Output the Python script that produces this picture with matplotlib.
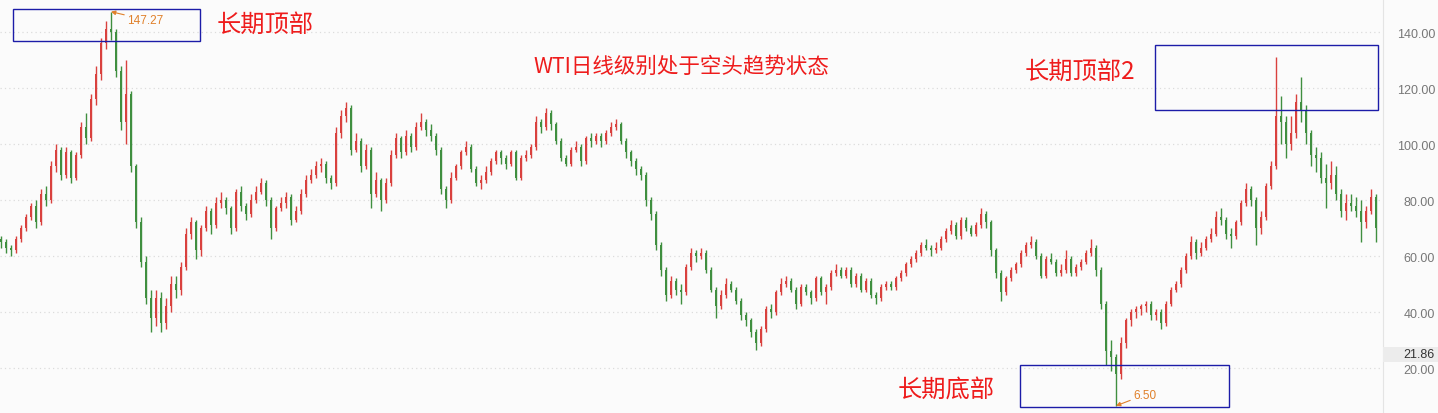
import matplotlib

matplotlib.use("Agg")
import matplotlib.pyplot as plt
import numpy as np
from matplotlib.patches import Rectangle

# WTI candles (one candle every ~5 px)
closes = [
    65, 63, 62, 66, 70, 74, 78, 72, 82, 80,
    92, 98, 89, 97, 88, 96, 106, 102, 116, 125,
    136, 141, 140, 126, 108, 118, 92, 72, 58, 45,
    38, 45, 36, 42, 50, 48, 56, 68, 72, 62,
    70, 76, 71, 79, 80, 77, 70, 83, 78, 75,
    80, 83, 86, 80, 70, 77, 79, 81, 73, 76,
    82, 87, 89, 92, 93, 88, 86, 104, 110, 113,
    98, 101, 92, 98, 82, 87, 80, 86, 96, 102,
    97, 103, 99, 106, 108, 105, 103, 98, 84, 80,
    88, 92, 97, 99, 91, 86, 87, 90, 94, 97,
    95, 93, 97, 88, 95, 96, 99, 108, 106, 111,
    107, 101, 95, 93, 98, 99, 94, 102, 101, 103,
    101, 104, 106, 107, 101, 97, 94, 91, 89, 80,
    75, 64, 55, 46, 51, 48, 47, 56, 61, 60,
    61, 55, 48, 42, 46, 50, 48, 44, 39, 37,
    33, 29, 34, 41, 40, 47, 50, 51, 48, 43,
    49, 47, 45, 52, 47, 49, 54, 55, 53, 55,
    50, 53, 48, 51, 46, 45, 49, 50, 49, 52,
    54, 57, 59, 61, 64, 63, 62, 63, 66, 69,
    71, 67, 73, 70, 68, 71, 75, 72, 62, 54,
    47, 52, 55, 57, 61, 64, 65, 60, 53, 59,
    58, 54, 55, 59, 54, 56, 58, 61, 63, 55,
    43, 26, 24, 18, 29, 37, 40, 41, 42, 43,
    39, 40, 36, 43, 48, 50, 55, 60, 65, 61,
    63, 66, 68, 74, 73, 68, 67, 72, 79, 84,
    80, 70, 74, 85, 92, 110, 108, 100, 104, 115,
    112, 104, 96, 95, 88, 86, 89, 82, 76, 79,
    78, 76, 72, 76, 81, 70,
]
highs = [
    67, 66, 64, 67, 71, 75, 79, 80, 84, 85,
    94, 100, 99, 99, 98, 97, 108, 111, 118, 128,
    138, 144, 147.27, 141, 128, 130, 119, 93, 74, 60,
    48, 48, 47, 45, 53, 53, 58, 70, 74, 73,
    71, 78, 77, 81, 83, 81, 78, 84, 85, 79,
    82, 85, 88, 87, 81, 78, 81, 83, 82, 78,
    84, 89, 91, 94, 95, 94, 89, 106, 112, 115,
    114, 104, 102, 100, 99, 90, 88, 88, 98, 104,
    103, 105, 104, 108, 111, 109, 107, 104, 99, 85,
    90, 93, 98, 101, 100, 92, 89, 92, 95, 98,
    98, 96, 98, 98, 96, 98, 100, 110, 109, 113,
    112, 108, 102, 96, 99, 101, 100, 103, 104, 104,
    104, 105, 108, 109, 108, 102, 98, 95, 92, 90,
    81, 76, 65, 56, 53, 52, 50, 57, 63, 62,
    63, 62, 56, 49, 48, 52, 51, 49, 45, 40,
    38, 34, 35, 42, 43, 48, 52, 53, 52, 49,
    50, 50, 48, 53, 53, 50, 55, 57, 56, 56,
    56, 54, 54, 52, 52, 47, 50, 51, 51, 53,
    55, 58, 60, 62, 65, 66, 64, 65, 67, 70,
    73, 72, 74, 74, 71, 72, 77, 76, 73, 63,
    55, 53, 56, 58, 62, 65, 67, 66, 61, 60,
    61, 59, 57, 62, 60, 57, 59, 62, 66, 64,
    56, 44, 30, 25, 31, 38, 41, 42, 43, 44,
    44, 41, 41, 44, 49, 51, 56, 61, 67, 66,
    65, 67, 70, 76, 77, 74, 70, 73, 80, 86,
    85, 81, 76, 86, 94, 131, 117, 110, 110, 118,
    124, 114, 105, 99, 97, 93, 94, 92, 84, 82,
    82, 81, 80, 78, 84, 82,
]
lows = [
    63, 61, 60, 61, 65, 69, 73, 70, 71, 78,
    79, 90, 87, 88, 86, 87, 95, 100, 101, 114,
    123, 134, 137, 124, 105, 100, 90, 70, 56, 43,
    33, 35, 33, 34, 40, 45, 46, 55, 66, 59,
    60, 69, 68, 70, 77, 75, 68, 69, 76, 73,
    74, 79, 82, 78, 66, 69, 76, 77, 71, 72,
    75, 81, 86, 88, 90, 86, 84, 85, 102, 108,
    96, 97, 90, 91, 77, 81, 76, 79, 85, 95,
    95, 96, 97, 98, 105, 103, 101, 96, 82, 77,
    79, 87, 91, 96, 90, 85, 84, 86, 89, 93,
    93, 91, 92, 87, 87, 94, 95, 98, 104, 105,
    105, 100, 94, 92, 92, 97, 92, 93, 99, 100,
    99, 100, 103, 105, 100, 95, 92, 89, 87, 78,
    73, 62, 53, 44, 45, 46, 43, 46, 55, 58,
    59, 54, 47, 38, 41, 45, 47, 43, 37, 35,
    31, 26.5, 28, 33, 38, 39, 46, 49, 47, 41,
    42, 46, 43, 44, 46, 43, 48, 53, 52, 52,
    49, 49, 47, 47, 45, 43, 44, 48, 48, 48,
    51, 53, 56, 58, 60, 62, 60, 61, 62, 65,
    68, 66, 66, 69, 67, 67, 70, 70, 60, 52,
    44, 46, 51, 54, 56, 60, 63, 59, 52, 52,
    57, 53, 53, 54, 53, 53, 55, 57, 60, 53,
    41, 21, 19, 6.5, 16, 27, 35, 38, 39, 40,
    37, 37, 34, 35, 42, 47, 49, 54, 59, 59,
    60, 62, 65, 67, 71, 66, 63, 66, 71, 78,
    78, 64, 68, 73, 84, 91, 100, 95, 98, 102,
    108, 100, 92, 90, 86, 77, 84, 80, 74, 73,
    76, 74, 65, 70, 75, 65,
]
first_open = 66
price_ticks = [20, 40, 60, 80, 100, 120, 140]
last_label = "21.86"

UP = "#d9413e"
DOWN = "#3f8f3f"
BOX = "#1c1ca8"
ORANGE = "#e0802a"
TXT_RED = "#ee1c1c"
CJK = ["Noto Sans CJK SC", "DejaVu Sans"]

closes = np.array(closes, dtype=float)
opens = np.concatenate([[first_open], closes[:-1]])
highs = np.maximum(np.array(highs, dtype=float), np.maximum(opens, closes))
lows = np.minimum(np.array(lows, dtype=float), np.minimum(opens, closes))
x = np.arange(len(closes))
up = closes >= opens
colors = np.where(up, UP, DOWN)

W, H = 1438, 414
fig = plt.figure(figsize=(W / 100, H / 100), dpi=100)
fig.patch.set_facecolor("#fbfbfb")
ax = fig.add_axes([0, 0, 1383 / W, 1])
ax.set_facecolor("#fbfbfb")

ax.vlines(x, lows, highs, colors=colors, linewidth=1)
body = np.maximum(np.abs(closes - opens), 0.4)
ax.bar(x, body, bottom=np.minimum(opens, closes), width=0.5, color=colors, linewidth=0)

ax.set_xlim(-0.2, 276.4)
ax.set_ylim(3.93, 151.8)

for s in ["top", "left", "bottom"]:
    ax.spines[s].set_visible(False)
ax.spines["right"].set_color("#e4e4e4")
ax.set_xticks([])
ax.yaxis.tick_right()
ax.set_yticks(price_ticks)
ax.set_yticklabels([f"{v:.2f}" for v in price_ticks], ha="right",
                   fontsize=9, color="#777777", family="Liberation Sans")
ax.tick_params(axis="y", length=0, pad=37.4)
ax.grid(axis="y", color="#dcdcdc", linestyle=(0, (1, 2.5)), linewidth=0.9)
ax.set_axisbelow(True)

# last price tag
fig.patches.append(Rectangle((1383 / W, 1 - 363 / H), 55 / W, 15 / H,
                             transform=fig.transFigure, fc="#ececec", ec="none", zorder=0))
fig.text(1435 / W, 1 - 355.5 / H, last_label, ha="right", va="center", fontsize=9,
         color="#333333", family="Liberation Sans")

# annotation boxes
for (x0, x1, y0, y1) in [(2.4, 39.8, 136.8, 148.2),
                         (230.8, 275.4, 112.1, 135.4),
                         (203.8, 245.6, 6.2, 21.0)]:
    ax.add_patch(Rectangle((x0, y0), x1 - x0, y1 - y0, fill=False,
                           ec=BOX, lw=1, zorder=5))

ax.annotate("147.27", xy=(22, 147.27), xytext=(25.2, 144.4),
            fontsize=8.5, color=ORANGE, va="center", ha="left",
            family="Liberation Sans",
            arrowprops=dict(arrowstyle="-|>,head_length=0.3,head_width=0.15",
                            color=ORANGE, lw=0.8, shrinkA=0, shrinkB=0))
ax.annotate("6.50", xy=(223, 6.5), xytext=(226.4, 10.4),
            fontsize=8.5, color=ORANGE, va="center", ha="left",
            family="Liberation Sans",
            arrowprops=dict(arrowstyle="-|>,head_length=0.3,head_width=0.15",
                            color=ORANGE, lw=0.8, shrinkA=0, shrinkB=0))

ax.text(43.2, 142.8, "长期顶部", fontsize=17.5, color=TXT_RED, va="center",
        ha="left", family=CJK)
ax.text(106.4, 127.9, "WTI日线级别处于空头趋势状态", fontsize=15.5, color=TXT_RED,
        va="center", ha="left", family=CJK)
ax.text(204.8, 126.1, "长期顶部2", fontsize=17.5, color=TXT_RED, va="center",
        ha="left", family=CJK)
ax.text(179.4, 12.5, "长期底部", fontsize=17.5, color=TXT_RED, va="center",
        ha="left", family=CJK)

fig.savefig("out.png", dpi=100, facecolor=fig.get_facecolor())
plt.close()
